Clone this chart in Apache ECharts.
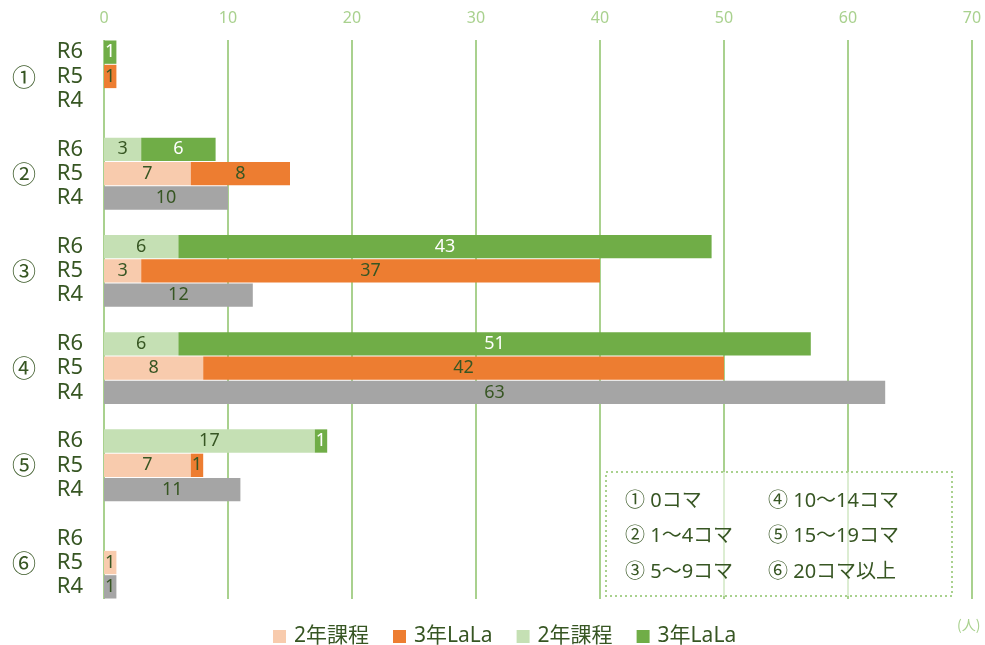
<!DOCTYPE html>
<html>
<head>
<meta charset="utf-8">
<script src="https://cdn.jsdelivr.net/npm/echarts@6/dist/echarts.min.js"></script>
<style>
  html, body { margin: 0; padding: 0; background: #ffffff; }
  #chart { width: 985px; height: 645px; }
</style>
</head>
<body>
<div id="chart"></div>
<script>
// groups (コマ数) and years
const groups = ["①", "②", "③", "④", "⑤", "⑥"];
const years = ["R6", "R5", "R4"];
const groupNotes = ["① 0コマ", "② 1～4コマ", "③ 5～9コマ", "④ 10～14コマ", "⑤ 15～19コマ", "⑥ 20コマ以上"];

// values per group (null = no bar)
const r6Course2 = [null, 3, 6, 6, 17, null];
const r6Lala = [1, 6, 43, 51, 1, null];
const r5Course2 = [null, 7, 3, 8, 7, 1];
const r5Lala = [1, 8, 37, 42, 1, null];
const r4Total = [null, 10, 12, 63, 11, 1];

const xTicks = [0, 10, 20, 30, 40, 50, 60, 70];

const textColor = "#375623";
const gridGreen = "#A9D18E";
const font = "'Noto Sans', 'Noto Sans CJK JP', sans-serif";
const cjk = "'Noto Sans CJK JP', sans-serif";

// build rows: R6,R5,R4 per group, a blank row between groups
let rowKeys = [], rowYear = [], rowGroup = [];
let dR6c = [], dR6l = [], dR5c = [], dR5l = [], dR4 = [];
groups.forEach(function (g, gi) {
  years.forEach(function (y) {
    rowKeys.push(g + y);
    rowYear.push(y);
    rowGroup.push(y === "R5" ? g : "");
    dR6c.push(y === "R6" && r6Course2[gi] != null ? r6Course2[gi] : "-");
    dR6l.push(y === "R6" && r6Lala[gi] != null ? r6Lala[gi] : "-");
    dR5c.push(y === "R5" && r5Course2[gi] != null ? r5Course2[gi] : "-");
    dR5l.push(y === "R5" && r5Lala[gi] != null ? r5Lala[gi] : "-");
    dR4.push(y === "R4" && r4Total[gi] != null ? r4Total[gi] : "-");
  });
  if (gi < groups.length - 1) {
    rowKeys.push("blank" + gi);
    rowYear.push("");
    rowGroup.push("");
    [dR6c, dR6l, dR5c, dR5l, dR4].forEach(function (a) { a.push("-"); });
  }
});

function barSeries(name, data, color, labelColor) {
  return {
    name: name,
    type: "bar",
    stack: "total",
    data: data,
    barCategoryGap: "4%",
    itemStyle: { color: color },
    label: {
      show: true,
      position: "inside",
      color: labelColor,
      fontSize: 18,
      fontFamily: font
    }
  };
}

let myChart = echarts.init(document.getElementById("chart"));

// 凡例ボックスの中の説明
let notes = groupNotes.map(function (t, i) {
  return {
    type: "text",
    x: i < 3 ? 625 : 768,
    y: [501, 536, 572][i % 3],
    z: 101,
    style: { text: t, fill: textColor, fontSize: 20, fontFamily: font, verticalAlign: "middle" }
  };
});

let options = {
  animation: false,
  grid: { left: 104, right: 13, top: 40, bottom: 46 },
  xAxis: {
    type: "value",
    position: "top",
    min: 0,
    max: xTicks[xTicks.length - 1],
    interval: 10,
    axisLine: { show: false },
    axisTick: { show: false },
    axisLabel: { color: gridGreen, fontSize: 16, fontFamily: font, margin: 14 },
    splitLine: { show: true, lineStyle: { color: gridGreen, width: 2 } }
  },
  yAxis: [
    {
      type: "category",
      inverse: true,
      data: rowKeys,
      axisLine: { show: false },
      axisTick: { show: false },
      axisLabel: {
        interval: 0,
        margin: 21,
        color: textColor,
        fontSize: 22,
        fontFamily: font,
        formatter: function (v, i) { return rowYear[i]; }
      }
    },
    {
      type: "category",
      inverse: true,
      position: "left",
      offset: 64,
      data: rowKeys,
      axisLine: { show: false },
      axisTick: { show: false },
      axisLabel: {
        interval: 0,
        margin: 4,
        color: textColor,
        fontSize: 24,
        fontFamily: cjk,
        formatter: function (v, i) { return rowGroup[i]; }
      }
    }
  ],
  legend: {
    data: ["2年課程(R5)", "3年LaLa(R5)", "2年課程(R6)", "3年LaLa(R6)"],
    left: 268,
    top: 621,
    icon: "rect",
    itemWidth: 13,
    itemHeight: 13,
    itemGap: 24,
    formatter: function (name) { return name.replace(/\(R\d\)/, ""); },
    textStyle: { color: textColor, fontSize: 21, fontFamily: font, padding: [0, 0, 0, 3] }
  },
  graphic: [
    {
      type: "rect",
      left: 605,
      top: 471,
      z: 100,
      shape: { width: 346, height: 124 },
      style: { fill: "rgba(255,255,255,0.6)", stroke: gridGreen, lineWidth: 2, lineDash: [2, 3] }
    },
    {
      type: "text",
      x: 957,
      y: 625,
      z: 100,
      style: { text: "(人)", fill: gridGreen, fontSize: 14, fontFamily: cjk, verticalAlign: "middle" }
    }
  ].concat(notes),
  series: [
    barSeries("2年課程(R5)", dR5c, "#F8CBAD", textColor),
    barSeries("3年LaLa(R5)", dR5l, "#ED7D31", textColor),
    barSeries("2年課程(R6)", dR6c, "#C5E0B4", textColor),
    barSeries("3年LaLa(R6)", dR6l, "#70AD47", "#ffffff"),
    barSeries("R4", dR4, "#A5A5A5", textColor)
  ]
};
myChart.setOption(options);
</script>
</body>
</html>
